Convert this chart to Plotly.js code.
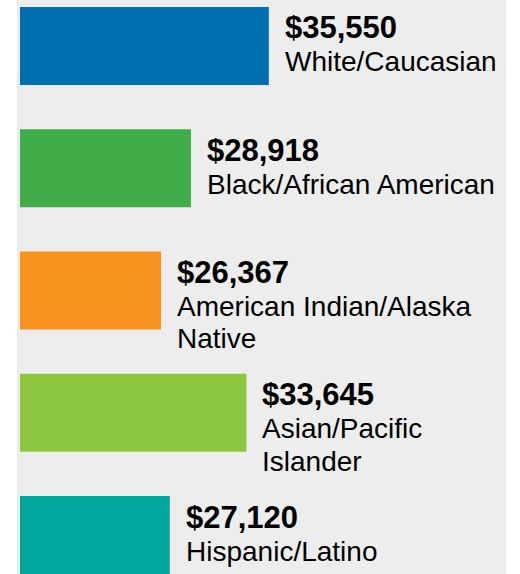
<!DOCTYPE html>
<html>
<head>
<meta charset="utf-8">
<script src="https://cdn.plot.ly/plotly-3.0.1.min.js"></script>
<style>html,body{margin:0;padding:0;background:#fff;}#chart{width:520px;height:574px;}</style>
</head>
<body>
<div id="chart"></div>
<script>
// Data
var categories = ['White/Caucasian', 'Black/African American', 'American Indian/Alaska Native', 'Asian/Pacific Islander', 'Hispanic/Latino'];
var labelLines = [['White/Caucasian'], ['Black/African American'], ['American Indian/Alaska', 'Native'], ['Asian/Pacific', 'Islander'], ['Hispanic/Latino']];
var values = [35550, 28918, 26367, 33645, 27120];
var valueLabels = ['$35,550', '$28,918', '$26,367', '$33,645', '$27,120'];
var colors = ['#006fb0', '#41ad49', '#f7931e', '#8dc63f', '#00a79d'];

var FONT = 'Liberation Sans, Arial, Helvetica, sans-serif';
var axisMin = 14108, axisMax = 55746, barBase = 14363;

var trace = {
  type: 'bar',
  orientation: 'h',
  x: values.map(function (v) { return v - barBase; }),
  base: barBase,
  y: categories,
  marker: { color: colors, line: { width: 0 } },
  hoverinfo: 'skip'
};

var annotations = [];
categories.forEach(function (c, i) {
  annotations.push({
    x: values[i], y: c, xref: 'x', yref: 'y',
    xanchor: 'left', yanchor: 'middle', xshift: 14, yshift: 18,
    text: '<b>' + valueLabels[i] + '</b>', showarrow: false,
    font: { family: FONT, size: 31, color: '#000' }
  });
  labelLines[i].forEach(function (line, k) {
    annotations.push({
      x: values[i], y: c, xref: 'x', yref: 'y',
      xanchor: 'left', yanchor: 'middle', xshift: 14, yshift: -16 - 32.5 * k,
      text: line, showarrow: false,
      font: { family: FONT, size: 28, color: '#000' }
    });
  });
});

var layout = {
  width: 520, height: 574,
  margin: { l: 17, r: 14, t: 0, b: 0, pad: 0 },
  paper_bgcolor: '#ffffff',
  plot_bgcolor: '#ecedec',
  showlegend: false,
  bargap: 0.362,
  xaxis: { range: [axisMin, axisMax], visible: false, showgrid: false, zeroline: false, fixedrange: true },
  yaxis: { type: 'category', categoryarray: categories, range: [4.319, -0.376], visible: false, showgrid: false, zeroline: false, fixedrange: true },
  annotations: annotations
};

Plotly.newPlot('chart', [trace], layout, { displayModeBar: false, staticPlot: true });
</script>
</body>
</html>
